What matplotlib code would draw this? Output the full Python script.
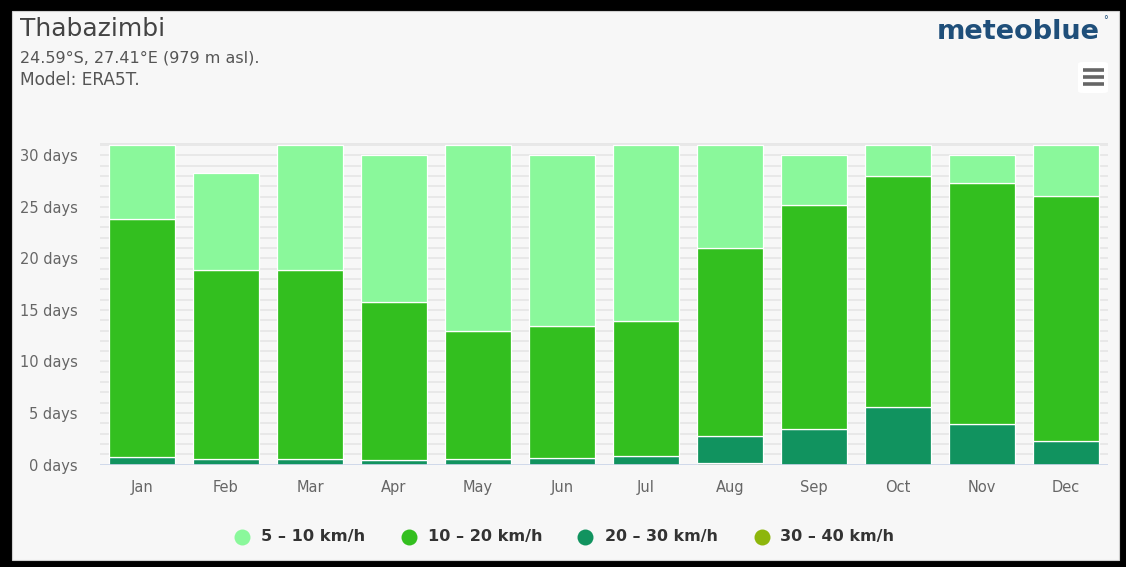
import matplotlib
matplotlib.use("Agg")
import matplotlib.pyplot as plt
from matplotlib.patches import Rectangle, FancyBboxPatch
from matplotlib.lines import Line2D
import numpy as np

plt.rcParams['font.family'] = ['DejaVu Sans']

months = ["Jan", "Feb", "Mar", "Apr", "May", "Jun", "Jul", "Aug", "Sep", "Oct", "Nov", "Dec"]
series_names = ["5 – 10 km/h", "10 – 20 km/h", "20 – 30 km/h", "30 – 40 km/h"]
wind_30_40 = [0, 0, 0, 0, 0, 0, 0, 0.1, 0, 0, 0, 0]
wind_20_30 = [0.7, 0.5, 0.5, 0.4, 0.5, 0.65, 0.85, 2.7, 3.45, 5.55, 3.95, 2.25]
wind_10_20 = [23.15, 18.4, 18.4, 15.4, 12.5, 12.75, 13.05, 18.2, 21.75, 22.45, 23.35, 23.85]
wind_5_10 = [7.15, 9.35, 12.1, 14.2, 18.0, 16.6, 17.1, 10.0, 4.8, 3.0, 2.7, 4.9]
y_ticks = [0, 5, 10, 15, 20, 25, 30]

colors = {"5 – 10 km/h": "#8af89b", "10 – 20 km/h": "#33bf1f",
          "20 – 30 km/h": "#11935f", "30 – 40 km/h": "#8db60c"}

W, H = 1126, 567
fig = plt.figure(figsize=(W / 100, H / 100), dpi=100)
fig.patch.set_facecolor("black")
renderer = fig.canvas.get_renderer()

def fx(x):
    return x / W

def fy(y):
    return 1 - y / H

def fit(txt, width_px):
    """Scale a text's font size so it spans width_px pixels."""
    for _ in range(3):
        bb = txt.get_window_extent(renderer=renderer)
        txt.set_fontsize(txt.get_fontsize() * width_px / bb.width)
    return txt

# panel
fig.patches.append(Rectangle((fx(12), fy(560)), fx(1119) - fx(12), fy(11) - fy(560),
                             transform=fig.transFigure, facecolor="#f7f7f7",
                             edgecolor="#cfcfcf", lw=0.8, zorder=-5))

left, right, top, bottom = 100, 1108, 143, 464.5
ax = fig.add_axes([fx(left), fy(bottom), fx(right) - fx(left), fy(top) - fy(bottom)])
ax.set_zorder(2)
ax.set_facecolor("none")
ymax = 31.2
ax.set_ylim(0, ymax)
ax.set_xlim(-0.5, 11.5)

for v in range(0, 32):
    ax.axhline(v, color="#e4e4e4", lw=1.1, zorder=0)
ax.axhline(ymax, color="#e4e4e4", lw=1.2, zorder=0)

x = np.arange(len(months))
stack = [("30 – 40 km/h", wind_30_40), ("20 – 30 km/h", wind_20_30),
         ("10 – 20 km/h", wind_10_20), ("5 – 10 km/h", wind_5_10)]
base = np.zeros(len(months))
for name, vals in stack:
    vals = np.array(vals, dtype=float)
    ax.bar(x, vals, width=0.795, bottom=base, color=colors[name],
           edgecolor="white", linewidth=0.9, zorder=2)
    base += vals

ax.axhline(0, color="#ccd6eb", lw=1.2, zorder=3)

for s in ax.spines.values():
    s.set_visible(False)
ax.set_yticks(y_ticks)
ax.set_yticklabels([f"{v} days" for v in y_ticks])
ax.set_xticks(x)
ax.set_xticklabels(months)
ax.tick_params(axis="both", length=0, colors="#666666", labelsize=10.5)
ax.tick_params(axis="y", pad=16)
ax.tick_params(axis="x", pad=11)

# header texts
t = fig.text(fx(20), fy(29), "Thabazimbi", fontsize=16, color="#444444", va="center", ha="left")
fit(t, 145)
t = fig.text(fx(20), fy(58), "24.59°S, 27.41°E (979 m asl).", fontsize=11, color="#555555", va="center", ha="left")
fit(t, 240)
t = fig.text(fx(20), fy(80), "Model: ERA5T.", fontsize=11, color="#555555", va="center", ha="left")
fit(t, 120)

# logo
t = fig.text(fx(1100), fy(32), "meteoblue", fontsize=18.5, color="#1f4f7a", fontweight="bold",
             va="center", ha="right")
fit(t, 163)
fig.text(fx(1105), fy(20), "°", fontsize=7, color="#1f4f7a", va="center", ha="center")

# menu icon
fig.patches.append(FancyBboxPatch((fx(1078), fy(93)), fx(1108) - fx(1078), fy(62) - fy(93),
                                  boxstyle="round,pad=0,rounding_size=0.004",
                                  transform=fig.transFigure, facecolor="white",
                                  edgecolor="none", zorder=1))
for yy in (70, 77, 84):
    fig.lines.append(Line2D([fx(1083), fx(1104)], [fy(yy), fy(yy)],
                            transform=fig.transFigure, color="#666666", lw=2.6,
                            solid_capstyle="butt", zorder=2))

# legend
legend_pos = [(241.7, 261, 104), (409, 428, 115), (585, 605, 113), (762, 780, 114)]
for name, (mx, tx, tw) in zip(series_names, legend_pos):
    fig.lines.append(Line2D([fx(mx)], [fy(537)], transform=fig.transFigure, marker="o",
                            markersize=11.5, color=colors[name], markeredgewidth=0,
                            linestyle="none", zorder=3))
    t = fig.text(fx(tx), fy(537), name, fontsize=10.2, color="#333333", fontweight="bold",
                 va="center", ha="left")
    fit(t, tw)

fig.savefig("out.png", dpi=100, facecolor=fig.get_facecolor())
